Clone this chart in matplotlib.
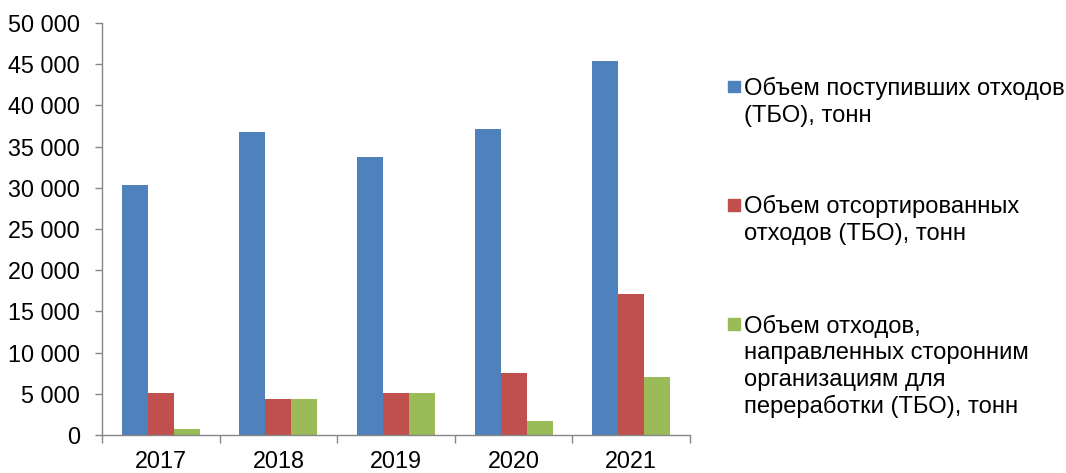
import matplotlib
matplotlib.use("Agg")
import matplotlib.pyplot as plt
from matplotlib.patches import Rectangle
from matplotlib.ticker import FuncFormatter, MultipleLocator, FixedLocator
import numpy as np

years = ["2017", "2018", "2019", "2020", "2021"]
received = [30350, 36750, 33700, 37150, 45350]
sorted_ = [5100, 4400, 5100, 7500, 17100]
transferred = [770, 4400, 5100, 1650, 7000]

series_labels = [
    ["Объем поступивших отходов", "(ТБО), тонн"],
    ["Объем отсортированных", "отходов (ТБО), тонн"],
    ["Объем отходов,", "направленных сторонним", "организациям для", "переработки (ТБО), тонн"],
]
colors = ["#4F81BD", "#C0504D", "#9BBB59"]

plt.rcParams["font.family"] = ["Liberation Sans", "DejaVu Sans"]
FS = 16.8
LFS = 17.1
W, H = 1066, 473
fig = plt.figure(figsize=(W / 100, H / 100), dpi=100)
ax = fig.add_axes([102 / W, 1 - 435 / H, (690 - 102) / W, (435 - 23) / H])

x = np.arange(len(years))
bw = 0.221
for i, (vals, c) in enumerate(zip([received, sorted_, transferred], colors)):
    ax.bar(x + (i - 1) * bw, vals, width=bw, color=c, edgecolor="none", zorder=2)

ax.set_xlim(-0.5, len(years) - 0.5)
ax.set_ylim(0, 50000)
ax.yaxis.set_major_locator(MultipleLocator(5000))
ax.yaxis.set_major_formatter(FuncFormatter(lambda v, p: f"{int(v):,}".replace(",", " ")))
ax.set_xticks(x)
ax.set_xticklabels(years)
ax.xaxis.set_minor_locator(FixedLocator(np.arange(-0.5, len(years), 1.0)))
ax.tick_params(axis="x", which="major", length=0, pad=11, labelsize=FS, colors="black")
ax.tick_params(axis="x", which="minor", length=6, width=1, color="#868686", direction="out")
ax.tick_params(axis="y", which="major", length=5, width=1, color="#868686", direction="out",
               pad=11, labelsize=FS, labelcolor="black")
for s in ["top", "right"]:
    ax.spines[s].set_visible(False)
for s in ["left", "bottom"]:
    ax.spines[s].set_color("#868686")
    ax.spines[s].set_linewidth(1)

# legend (markers aligned with first line of each label)
first_baselines = [95, 213.5, 332.5]
pitch = 26.8
for lines, c, b in zip(series_labels, colors, first_baselines):
    cy = b - 8.5
    fig.patches.append(Rectangle((728 / W, 1 - (cy + 5.8) / H), 11.6 / W, 11.6 / H,
                                 transform=fig.transFigure, color=c))
    for k, line in enumerate(lines):
        fig.text(744 / W, 1 - (b + k * pitch) / H, line, fontsize=LFS, va="baseline",
                 ha="left", color="black")

fig.savefig("out.png", dpi=100)
